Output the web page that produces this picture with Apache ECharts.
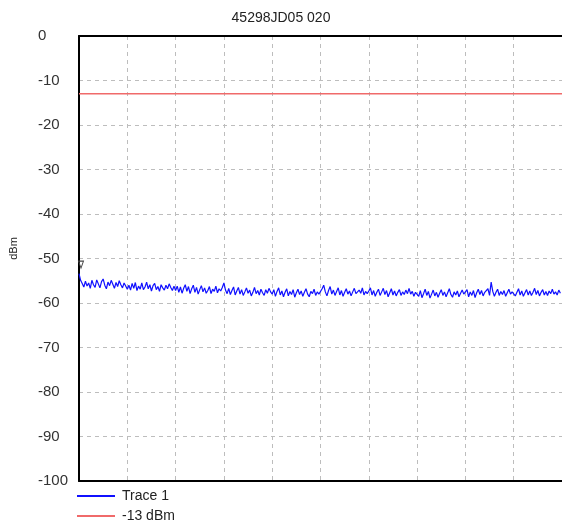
<!DOCTYPE html>
<html>
<head>
<meta charset="utf-8">
<script src="https://cdn.jsdelivr.net/npm/echarts@6/dist/echarts.min.js"></script>
<style>html,body{margin:0;padding:0;background:#fff;}#c{width:562px;height:524px;}</style>
</head>
<body>
<div id="c"></div>
<script>
var chartTitle = '45298JD05 020';
var yTicks = [0, -10, -20, -30, -40, -50, -60, -70, -80, -90, -100];
var limitLevel = -13;
var limitName = '-13 dBm';
var traceName = 'Trace 1';
var trace1 = [
  -53.4, -54.9, -55.6, -56.4, -55.1, -56.2, -55.5, -56.7, -54.9, -55.9, -56.5, -54.8, -55.7, -56.6, -55.2, -54.6, -56.0, -56.8, -55.3, -56.1, -54.9, -55.8, -56.7, -55.4, -56.3, -55.0, -55.9, -56.6, -55.5, -56.2,
  -56.9, -56.0, -57.1, -55.6, -56.7, -55.4, -57.2, -56.2, -56.9, -55.5, -57.0, -56.4, -55.3, -56.8, -55.9, -57.3, -56.1, -55.6, -57.0, -56.3, -57.4, -55.9, -56.6, -57.1, -56.0, -56.8, -55.7, -56.5, -57.2, -56.2,
  -57.2, -56.2, -57.6, -56.4, -57.8, -56.7, -55.9, -57.4, -56.3, -57.9, -56.8, -56.0, -57.6, -56.5, -58.0, -57.0, -56.1, -57.5, -56.6, -57.8, -57.2, -56.3, -57.9, -56.9, -57.4, -56.2, -57.7, -56.8, -57.3, -56.5,
  -55.5, -57.1, -57.9, -56.7, -58.1, -57.2, -56.4, -58.2, -57.3, -56.5, -58.0, -57.0, -58.3, -57.5, -56.6, -57.8, -57.1, -58.4, -57.6, -56.5, -57.9, -57.2, -58.2, -56.9, -57.7, -58.3, -57.0, -57.8, -56.7, -57.5,
  -58.0, -57.0, -58.5, -57.4, -56.6, -58.2, -57.3, -58.6, -57.6, -56.8, -58.4, -57.4, -58.1, -57.0, -58.7, -57.7, -56.9, -58.1, -57.3, -58.5, -57.6, -56.8, -58.0, -58.6, -57.4, -57.9, -56.9, -58.3, -57.5, -58.0,
  -57.7, -56.8, -56.0, -57.5, -58.4, -57.2, -56.3, -58.0, -57.1, -58.3, -57.4, -56.6, -58.2, -57.2, -58.5, -57.6, -56.8, -58.0, -57.3, -58.4, -57.5, -56.7, -57.9, -58.3, -57.1, -57.8, -56.6, -58.2, -57.4, -57.9,
  -57.3, -56.6, -58.2, -57.2, -58.5, -57.6, -56.9, -58.3, -57.5, -56.7, -58.1, -57.2, -58.6, -57.7, -56.8, -58.2, -57.3, -58.4, -57.6, -57.0, -58.3, -57.5, -58.1, -57.1, -57.9, -56.7, -58.0, -57.4, -58.5, -57.6,
  -57.8, -58.5, -57.2, -58.8, -57.9, -56.9, -58.3, -57.4, -58.9, -58.0, -57.1, -58.4, -57.6, -58.7, -57.8, -57.0, -58.3, -57.5, -58.6, -57.7, -56.8, -58.1, -58.7, -57.5, -58.2, -57.3, -58.6, -57.8, -57.1, -58.0,
  -57.9, -57.0, -58.6, -57.5, -58.3, -57.2, -58.8, -57.7, -56.9, -58.1, -57.2, -58.4, -57.6, -58.0, -56.8, -58.3, -55.3, -57.4, -58.5, -57.6, -56.9, -58.3, -57.4, -58.1, -57.2, -58.5, -57.7, -56.9, -58.0, -57.5,
  -57.4, -58.4, -57.6, -56.8, -58.2, -57.3, -58.5, -57.7, -57.0, -58.2, -57.3, -58.3, -57.6, -56.7, -58.1, -57.2, -58.4, -57.6, -57.0, -58.2, -57.4, -58.3, -57.3, -57.9, -56.9, -58.0, -57.5, -58.2, -57.1, -57.8
];

var xMax = trace1.length;
var traceData = trace1.map(function (v, i) { return [i, v]; });
var limitData = [[0, limitLevel], [xMax, limitLevel]];

var chart = echarts.init(document.getElementById('c'), null, {renderer: 'canvas'});
var font = 'Liberation Sans, Arial, sans-serif';
var legendBase = {
  orient: 'horizontal',
  left: 72,
  itemWidth: 38,
  itemHeight: 2,
  icon: 'rect',
  textStyle: {fontFamily: font, fontSize: 14, color: '#222', padding: [0, 0, 0, 2]}
};
chart.setOption({
  animation: false,
  backgroundColor: '#ffffff',
  title: {
    text: chartTitle,
    left: 'center',
    top: 6,
    textStyle: {fontFamily: font, fontSize: 14, fontWeight: 'normal', color: '#222'}
  },
  grid: {left: 77, top: 36, right: -5, bottom: 43, containLabel: false},
  legend: [
    Object.assign({}, legendBase, {top: 484, data: [traceName]}),
    Object.assign({}, legendBase, {top: 504, data: [limitName]})
  ],
  xAxis: [{
    type: 'value',
    min: 0,
    max: xMax,
    interval: xMax / 10,
    position: 'bottom',
    axisLine: {show: true, onZero: false, lineStyle: {color: '#000', width: 2}},
    axisTick: {show: false},
    axisLabel: {show: false},
    splitLine: {show: true, lineStyle: {color: '#bdbdbd', type: [4, 4], width: 1}}
  }, {
    type: 'value',
    min: 0,
    max: xMax,
    position: 'top',
    axisLine: {show: true, onZero: false, lineStyle: {color: '#000', width: 2}},
    axisTick: {show: false},
    axisLabel: {show: false},
    splitLine: {show: false}
  }],
  yAxis: {
    type: 'value',
    min: -100,
    max: 0,
    interval: 10,
    name: 'dBm',
    nameLocation: 'middle',
    nameGap: 60,
    nameRotate: 90,
    nameTextStyle: {fontFamily: font, fontSize: 11, color: '#222', padding: [0, 0, 0, 20]},
    axisLine: {show: true, onZero: false, lineStyle: {color: '#000', width: 2}},
    axisTick: {show: false},
    axisLabel: {
      fontFamily: font, fontSize: 15, color: '#333', align: 'left', margin: 41,
      customValues: yTicks
    },
    splitLine: {show: true, lineStyle: {color: '#bdbdbd', type: [4, 4], width: 1}}
  },
  series: [{
    name: traceName,
    type: 'line',
    xAxisIndex: 0,
    data: traceData,
    showSymbol: false,
    lineStyle: {color: '#1010ff', width: 1.2},
    itemStyle: {color: '#1010ff'},
    markPoint: {
      symbol: 'path://M0,0 L10,0 L5,10 Z',
      symbolSize: [5, 7],
      symbolOffset: [2, -9],
      itemStyle: {color: 'rgba(0,0,0,0)', borderColor: '#444', borderWidth: 1},
      label: {show: false},
      data: [{coord: traceData[0]}]
    },
    z: 3
  }, {
    name: limitName,
    type: 'line',
    xAxisIndex: 0,
    data: limitData,
    showSymbol: false,
    lineStyle: {color: '#f06a6a', width: 1.5},
    itemStyle: {color: '#f06a6a'},
    z: 2
  }]
});
</script>
</body>
</html>
